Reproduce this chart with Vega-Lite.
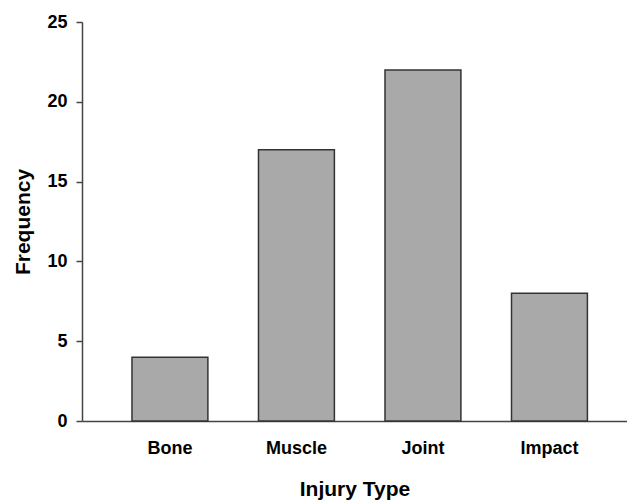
{
  "$schema": "https://vega.github.io/schema/vega-lite/v6.json",
  "width": 545,
  "height": 399,
  "autosize": {"type": "none"},
  "padding": {"left": 82, "top": 22, "right": 0, "bottom": 81},
  "background": "white",
  "config": {
    "view": {"stroke": null},
    "font": "Liberation Sans"
  },
  "data": {
    "values": [
      {"type": "Bone", "freq": 4},
      {"type": "Muscle", "freq": 17},
      {"type": "Joint", "freq": 22},
      {"type": "Impact", "freq": 8}
    ]
  },
  "mark": {"type": "bar", "fill": "#a9a9a9", "stroke": "#333333", "strokeWidth": 1.5},
  "encoding": {
    "x": {
      "field": "type",
      "type": "nominal",
      "sort": ["Bone", "Muscle", "Joint", "Impact"],
      "scale": {"paddingInner": 0.4, "paddingOuter": 0.354, "align": 0.558},
      "axis": {
        "title": "Injury Type",
        "titleFont": "Liberation Sans",
        "titleFontSize": 21,
        "titleFontWeight": "bold",
        "titleColor": "black",
        "titlePadding": 21,
        "labelFont": "Liberation Sans",
        "labelFontSize": 18,
        "labelFontWeight": "bold",
        "labelColor": "black",
        "labelAngle": 0,
        "labelPadding": 18,
        "ticks": false,
        "tickSize": 0,
        "domainColor": "#444444",
        "domainWidth": 1.5,
        "grid": false
      }
    },
    "y": {
      "field": "freq",
      "type": "quantitative",
      "scale": {"domain": [0, 25], "nice": false},
      "axis": {
        "title": "Frequency",
        "titleFont": "Liberation Sans",
        "titleFontSize": 21,
        "titleFontWeight": "bold",
        "titleColor": "black",
        "titlePadding": 13,
        "labelFont": "Liberation Sans",
        "labelFontSize": 18,
        "labelFontWeight": "bold",
        "labelColor": "black",
        "labelPadding": 9,
        "values": [0, 5, 10, 15, 20, 25],
        "tickSize": 6,
        "tickColor": "#444444",
        "tickWidth": 1.5,
        "domainColor": "#444444",
        "domainWidth": 1.5,
        "grid": false
      }
    }
  }
}
